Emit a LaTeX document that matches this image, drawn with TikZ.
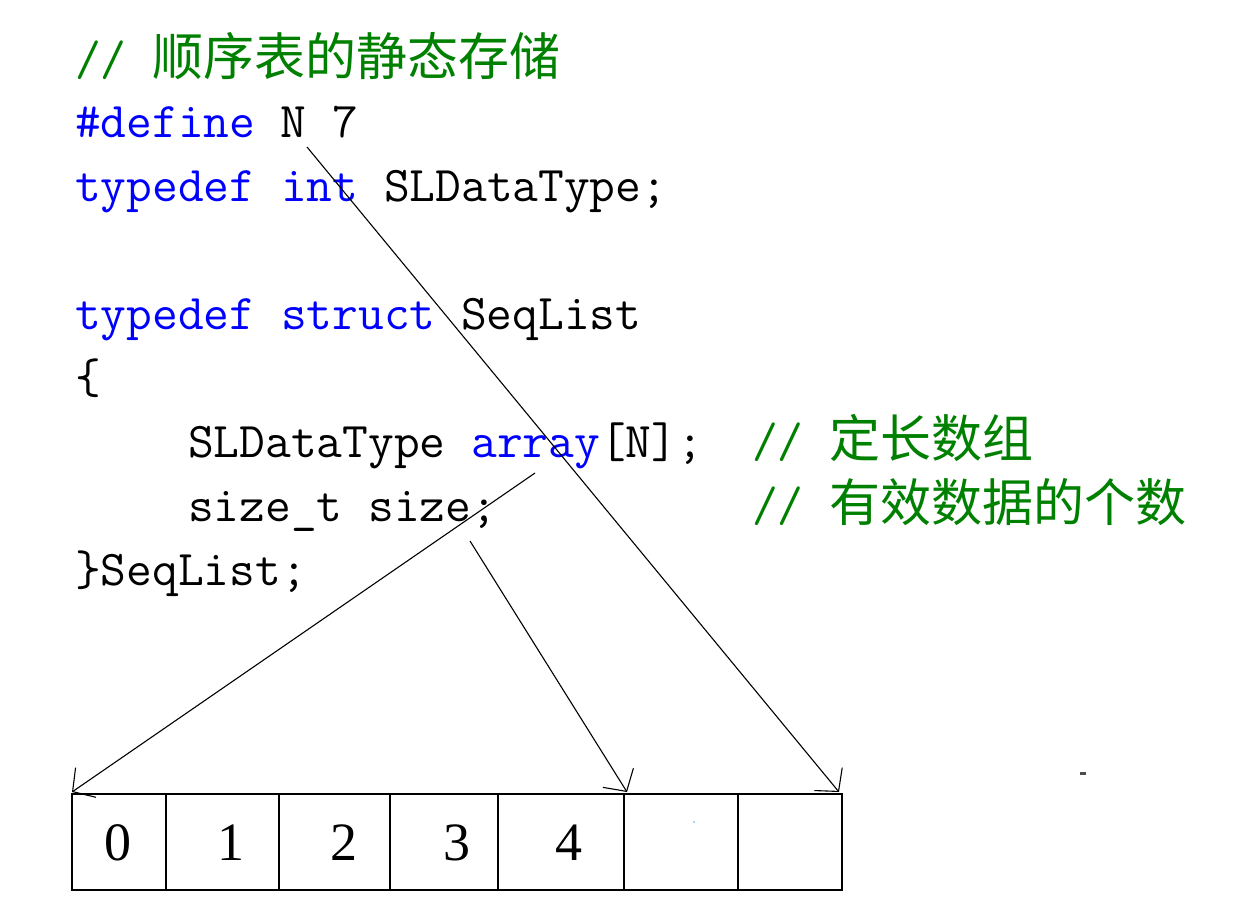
\documentclass[tikz,border=0pt]{standalone}
\usepackage{fontspec}
\usetikzlibrary{arrows.meta}
\newfontfamily\cjkfont{Noto Sans CJK SC}
\newfontfamily\digitfont{Liberation Serif}
\definecolor{cmt}{RGB}{0,128,0}
\definecolor{kw}{RGB}{0,0,255}
\newcommand\codesize{\ttfamily\fontsize{50pt}{64pt}\selectfont}
\newcommand\zh[1]{{\cjkfont\fontsize{51pt}{64pt}\selectfont #1}}
\tikzset{
  codeline/.style={anchor=base west, inner sep=0pt, outer sep=0pt, font=\codesize},
  cellbox/.style={draw, line width=2pt, minimum height=96pt, inner sep=0pt, outer sep=0pt},
  digit/.style={anchor=base, inner sep=0pt, font=\digitfont\fontsize{54pt}{64pt}\selectfont},
  ptr/.style={-{Straight Barb[length=16pt,width=36pt]}, line width=1.1pt, black}
}
\begin{document}
\begin{tikzpicture}[x=1pt,y=-1pt]
\useasboundingbox (0,0) rectangle (1243,906);
% code text
\node[codeline] (l0) at (75,75) {\color{cmt}// \zh{顺序表的静态存储}};
\node[codeline] (l1) at (75,137) {{\color{kw}\#define} N 7};
\node[codeline] (l2) at (75,201) {{\color{kw}typedef int} SLDataType;};
\node[codeline] (l3) at (75,329) {{\color{kw}typedef struct} SeqList};
\node[codeline] (l4) at (75,393) {\{};
\node[codeline] (l5) at (188,457) {SLDataType {\color{kw}array}[N];};
\node[codeline] (c5) at (752,457) {\color{cmt}// \zh{定长数组}};
\node[codeline] (l6) at (188,521) {size\_t size;};
\node[codeline] (c6) at (752,521) {\color{cmt}// \zh{有效数据的个数}};
\node[codeline] (l7) at (75,585) {\}SeqList;};
% array cells
\node[cellbox, minimum width=94pt] (a0) at (119,842) {};
\node[cellbox, minimum width=113pt] (a1) at (222.5,842) {};
\node[cellbox, minimum width=111pt] (a2) at (334.5,842) {};
\node[cellbox, minimum width=108pt] (a3) at (444,842) {};
\node[cellbox, minimum width=126pt] (a4) at (561,842) {};
\node[cellbox, minimum width=114pt] (a5) at (681,842) {};
\node[cellbox, minimum width=104pt] (a6) at (790,842) {};
% digits
\node[digit] (d0) at (117.5,860) {0};
\node[digit] (d1) at (231,860) {1};
\node[digit] (d2) at (343.5,860) {2};
\node[digit] (d3) at (456.5,860) {3};
\node[digit] (d4) at (569,860) {4};
% arrow starts and ends
\coordinate (sA) at (535,473);
\coordinate (sB) at (470,541);
\coordinate (sC) at (307,147);
\coordinate (tA) at ([shift={(0,-2)}]a0.north west);
\coordinate (tB) at ([shift={(3,-2)}]a4.north east);
\coordinate (tC) at ([shift={(-3,-2)}]a6.north east);
\draw[ptr] (sA) -- (tA);
\draw[ptr] (sB) -- (tB);
\draw[ptr] (sC) -- (tC);
% stray marks
\fill[black!70] (1080,771.5) rectangle (1086,774.5);
\fill[cyan!40] (693,821) rectangle (695,823);
\end{tikzpicture}
\end{document}
